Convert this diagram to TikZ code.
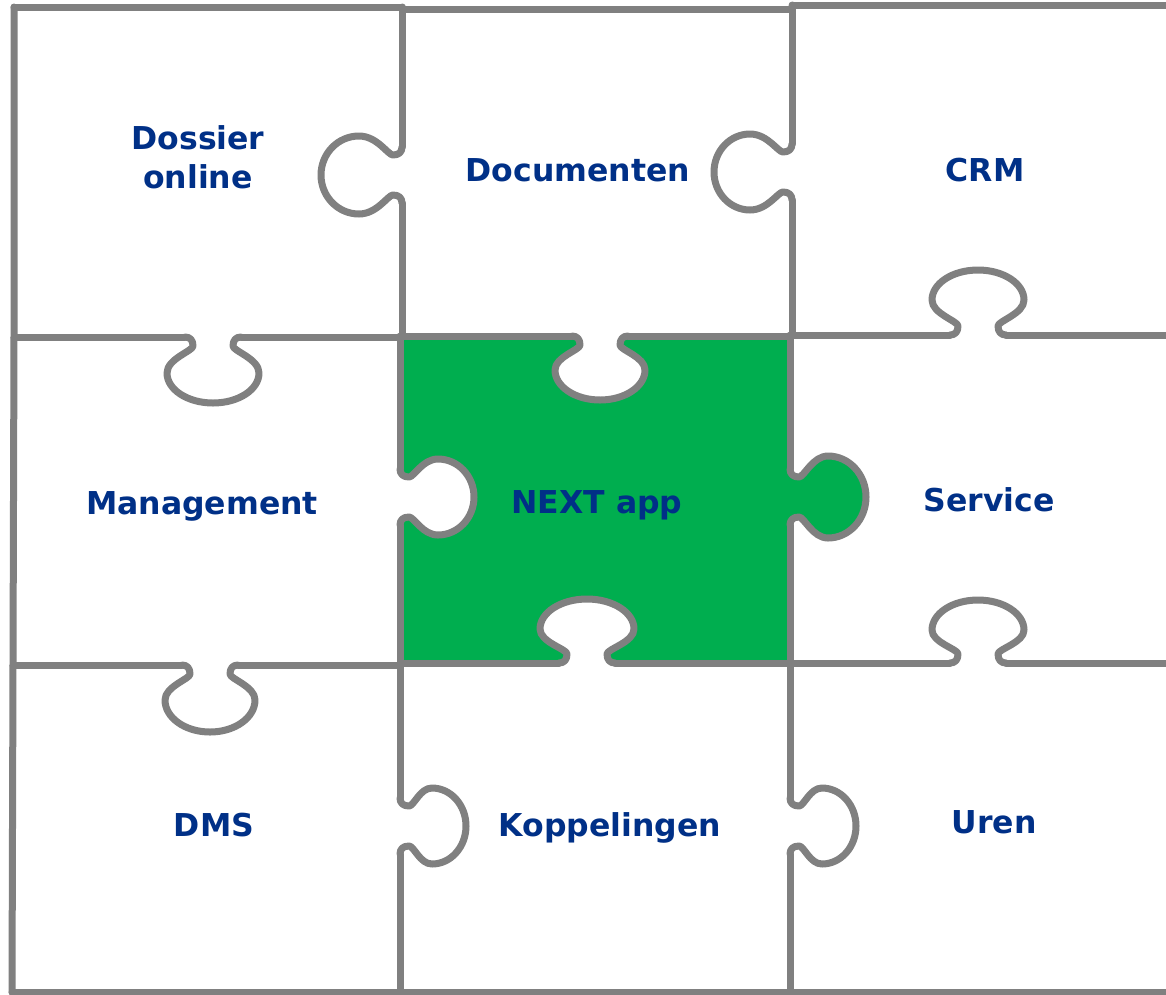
\documentclass[tikz,border=0pt]{standalone}
\usepackage{fontspec}
\setmainfont{DejaVu Sans}
\definecolor{lines}{RGB}{128,128,128}
\definecolor{txt}{RGB}{0,48,135}
\definecolor{grn}{RGB}{0,174,79}
\newcommand\kcalc[3]{%
 \pgfmathsetmacro\ka{#1}\pgfmathsetmacro\kh{#2}%
 \pgfmathsetmacro\kc{#2-#3}\pgfmathsetmacro\kk{0.5523*#3}%
 \pgfmathsetmacro\kl{0.5523*#1}\pgfmathsetmacro\km{\kc-0.55*(\kc-10)}%
 \pgfmathsetmacro\kna{-\ka}\pgfmathsetmacro\knl{-\kl}\pgfmathsetmacro\kck{\kc+\kk}}
\def\knobcurve{(-28,0) .. controls (-23,0) and (-20,3) .. (-20,9)
  .. controls (-20,14) and (\kna,\km) .. (\kna,\kc)
  .. controls (\kna,\kck) and (\knl,\kh) .. (0,\kh)
  .. controls (\kl,\kh) and (\ka,\kck) .. (\ka,\kc)
  .. controls (\ka,\km) and (20,14) .. (20,9)
  .. controls (20,3) and (23,0) .. (28,0)}
\tikzset{
 pline/.style={draw=lines,line width=7pt,line join=round,line cap=round},
 lbl/.style={text=txt,font=\fontsize{31.5}{39}\selectfont\bfseries,anchor=base,inner sep=0pt},
 pics/knob/.style args={#1/#2/#3}{code={\kcalc{#1}{#2}{#3}\draw[pline] \knobcurve;}},
 pics/knobfill/.style args={#1/#2/#3/#4}{code={\kcalc{#1}{#2}{#3}\fill[#4] \knobcurve -- cycle;}},
}
\begin{document}
\begin{tikzpicture}[x=1pt,y=-1pt]
\useasboundingbox (0,0) rectangle (1166,994);
\fill[white] (0,0) rectangle (1166,994);
% green piece
\fill[grn] (400,336) rectangle (790,663);
\pic[rotate=90] at (790,497) {knobfill=41/76/38/grn};
\pic at (600,336) {knobfill=45/64/30/white};
\pic[rotate=90] at (400,497) {knobfill=38/74/36/white};
\pic[rotate=180] at (587,663) {knobfill=47/64/30/white};
% outer borders
\draw[pline] (14,7) -- (14,337) -- (13,665) -- (12,992);
\draw[pline] (14,7) -- (402,7) (402,9) -- (792,9) (792,5) -- (1175,5);
\draw[pline] (12,992) -- (1175,992);
% row 1 verticals
\draw[pline] (402,7) -- (402,147) (402,203) -- (402,337);
\pic[rotate=-90] at (402,175) {knob=39/81/38};
\draw[pline] (792,5) -- (792,144) (792,200) -- (792,335);
\pic[rotate=-90] at (792,172) {knob=38/78/36};
% row 1/2 horizontals
\draw[pline] (14,337) -- (185,337) (241,337) -- (402,337);
\pic at (213,337) {knob=46/66/30};
\draw[pline] (400,336) -- (572,336) (628,336) -- (790,336);
\pic at (600,336) {knob=45/64/30};
\draw[pline] (790,335) -- (950,335) (1006,335) -- (1175,335);
\pic[rotate=180] at (978,335) {knob=46/65/30};
% row 2 verticals
\draw[pline] (400,336) -- (400,469) (400,525) -- (400,665);
\pic[rotate=90] at (400,497) {knob=38/74/36};
\draw[pline] (790,335) -- (790,469) (790,525) -- (790,663);
\pic[rotate=90] at (790,497) {knob=41/76/38};
% row 2/3 horizontals
\draw[pline] (13,665) -- (182,665) (238,665) -- (400,665);
\pic at (210,665) {knob=45/67/32};
\draw[pline] (400,663) -- (559,663) (615,663) -- (790,663);
\pic[rotate=180] at (587,663) {knob=47/64/30};
\draw[pline] (790,663) -- (950,663) (1006,663) -- (1175,663);
\pic[rotate=180] at (978,663) {knob=46/63/30};
% row 3 verticals
\draw[pline] (400,665) -- (400,798) (400,854) -- (400,992);
\pic[rotate=90] at (400,826) {knob=38/66/34};
\draw[pline] (790,663) -- (790,798) (790,854) -- (790,992);
\pic[rotate=90] at (790,826) {knob=38/66/34};
% labels
\node[lbl] (dossier) at (198,149) {Dossier};
\node[lbl] (online) at (198,188) {online};
\node[lbl] (documenten) at (578,181) {Documenten};
\node[lbl] (crm) at (985,181) {CRM};
\node[lbl] (management) at (202,514) {Management};
\node[lbl] (next) at (597,513) {NEXT app};
\node[lbl] (service) at (989,511) {Service};
\node[lbl] (dms) at (214,836) {DMS};
\node[lbl] (koppelingen) at (610,836) {Koppelingen};
\node[lbl] (uren) at (994,833) {Uren};
\end{tikzpicture}
\end{document}
